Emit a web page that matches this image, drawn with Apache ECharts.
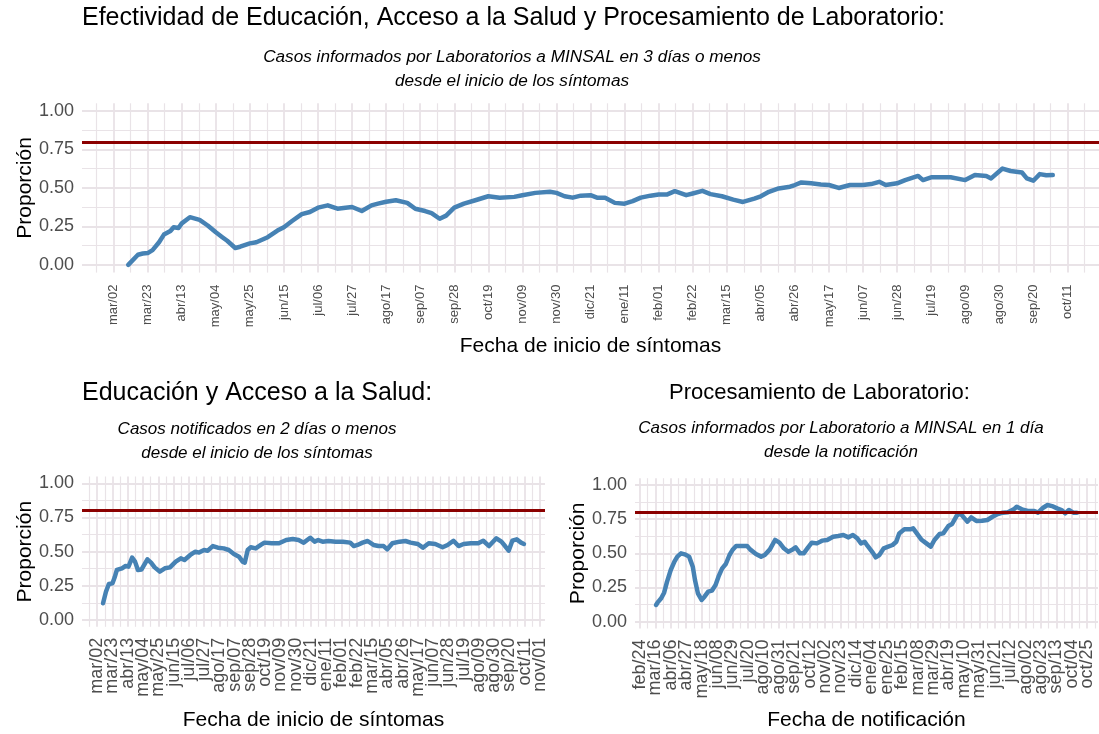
<!DOCTYPE html>
<html>
<head>
<meta charset="utf-8">
<script src="https://cdn.jsdelivr.net/npm/echarts@6/dist/echarts.min.js"></script>
<style>
html,body{margin:0;padding:0;background:#fff;}
#c{width:1099px;height:734px;}
</style>
</head>
<body>
<div id="c"></div>
<script>
// ---- data ----
const MESES = ['ene','feb','mar','abr','may','jun','jul','ago','sep','oct','nov','dic'];
const UMBRAL = 0.8;
const Y_TICKS = [0, 0.25, 0.5, 0.75, 1];

// Panel 1: Efectividad (fecha de inicio de síntomas)
const topFechas = ['2020-03-11','2020-03-17','2020-03-20','2020-03-23','2020-03-26','2020-03-30','2020-04-02','2020-04-06','2020-04-08','2020-04-11','2020-04-13','2020-04-18','2020-04-24','2020-04-29','2020-05-04','2020-05-08','2020-05-11','2020-05-16','2020-05-19','2020-05-25','2020-05-29','2020-06-05','2020-06-11','2020-06-15','2020-06-20','2020-06-26','2020-07-01','2020-07-06','2020-07-12','2020-07-18','2020-07-23','2020-07-27','2020-08-02','2020-08-08','2020-08-12','2020-08-17','2020-08-23','2020-08-30','2020-09-04','2020-09-10','2020-09-14','2020-09-19','2020-09-23','2020-09-28','2020-10-04','2020-10-11','2020-10-19','2020-10-26','2020-11-04','2020-11-09','2020-11-17','2020-11-26','2020-11-30','2020-12-05','2020-12-10','2020-12-15','2020-12-21','2020-12-25','2020-12-30','2021-01-05','2021-01-11','2021-01-16','2021-01-21','2021-01-27','2021-02-01','2021-02-06','2021-02-11','2021-02-18','2021-02-22','2021-02-28','2021-03-05','2021-03-12','2021-03-19','2021-03-25','2021-04-01','2021-04-05','2021-04-10','2021-04-16','2021-04-23','2021-04-26','2021-04-30','2021-05-06','2021-05-12','2021-05-17','2021-05-23','2021-05-30','2021-06-07','2021-06-12','2021-06-17','2021-06-21','2021-06-28','2021-07-03','2021-07-11','2021-07-14','2021-07-19','2021-07-24','2021-07-31','2021-08-09','2021-08-15','2021-08-22','2021-08-25','2021-09-01','2021-09-06','2021-09-13','2021-09-16','2021-09-20','2021-09-24','2021-09-28','2021-10-02'];
const topValores = [0.00,0.066,0.074,0.077,0.096,0.147,0.197,0.22,0.245,0.24,0.27,0.31,0.293,0.256,0.212,0.18,0.157,0.11,0.118,0.14,0.147,0.18,0.223,0.245,0.285,0.33,0.344,0.372,0.387,0.365,0.372,0.376,0.35,0.387,0.398,0.41,0.42,0.403,0.365,0.35,0.337,0.30,0.32,0.372,0.398,0.42,0.446,0.437,0.442,0.453,0.468,0.475,0.468,0.446,0.437,0.45,0.453,0.437,0.437,0.403,0.398,0.414,0.437,0.45,0.457,0.457,0.479,0.453,0.464,0.481,0.46,0.446,0.424,0.409,0.431,0.446,0.475,0.497,0.508,0.519,0.536,0.53,0.523,0.519,0.50,0.519,0.519,0.525,0.54,0.519,0.53,0.551,0.578,0.551,0.569,0.569,0.569,0.551,0.584,0.578,0.562,0.626,0.61,0.60,0.562,0.547,0.59,0.582,0.584];

// Panel 2: Educación y Acceso a la Salud (fecha de inicio de síntomas)
const eduFechas = ['2020-03-10','2020-03-14','2020-03-18','2020-03-23','2020-03-26','2020-03-29','2020-04-05','2020-04-10','2020-04-14','2020-04-19','2020-04-23','2020-04-27','2020-05-02','2020-05-10','2020-05-15','2020-05-20','2020-05-27','2020-06-03','2020-06-10','2020-06-18','2020-06-25','2020-06-30','2020-07-08','2020-07-15','2020-07-20','2020-07-27','2020-08-01','2020-08-08','2020-08-15','2020-08-23','2020-08-30','2020-09-06','2020-09-13','2020-09-18','2020-09-21','2020-09-25','2020-09-29','2020-10-06','2020-10-13','2020-10-18','2020-10-28','2020-11-07','2020-11-17','2020-11-26','2020-12-04','2020-12-11','2020-12-20','2020-12-26','2020-12-31','2021-01-06','2021-01-14','2021-01-24','2021-02-03','2021-02-13','2021-02-18','2021-02-23','2021-03-02','2021-03-09','2021-03-17','2021-03-24','2021-03-31','2021-04-05','2021-04-12','2021-04-22','2021-04-30','2021-05-07','2021-05-17','2021-05-24','2021-06-01','2021-06-10','2021-06-20','2021-06-27','2021-07-05','2021-07-12','2021-07-19','2021-07-29','2021-08-08','2021-08-15','2021-08-23','2021-09-02','2021-09-09','2021-09-14','2021-09-19','2021-09-24','2021-09-30','2021-10-06','2021-10-10'];
const eduValores = [0.122,0.207,0.263,0.268,0.312,0.366,0.378,0.395,0.39,0.456,0.427,0.366,0.37,0.444,0.42,0.385,0.354,0.378,0.385,0.427,0.451,0.439,0.476,0.50,0.493,0.512,0.507,0.541,0.529,0.524,0.512,0.483,0.463,0.427,0.42,0.512,0.532,0.524,0.549,0.566,0.561,0.561,0.585,0.593,0.585,0.566,0.602,0.573,0.585,0.573,0.578,0.573,0.573,0.566,0.541,0.549,0.566,0.578,0.549,0.541,0.541,0.517,0.561,0.573,0.578,0.566,0.556,0.529,0.561,0.556,0.532,0.549,0.58,0.541,0.556,0.561,0.561,0.58,0.541,0.598,0.573,0.541,0.507,0.58,0.59,0.566,0.556];

// Panel 3: Procesamiento de Laboratorio (fecha de notificación)
const labFechas = ['2020-03-17','2020-03-19','2020-03-24','2020-03-28','2020-04-01','2020-04-06','2020-04-11','2020-04-15','2020-04-20','2020-04-25','2020-05-01','2020-05-06','2020-05-09','2020-05-13','2020-05-18','2020-05-22','2020-05-27','2020-06-01','2020-06-06','2020-06-10','2020-06-15','2020-06-20','2020-06-25','2020-06-29','2020-07-04','2020-07-11','2020-07-19','2020-07-23','2020-07-31','2020-08-07','2020-08-12','2020-08-19','2020-08-26','2020-09-01','2020-09-07','2020-09-13','2020-09-19','2020-09-23','2020-09-29','2020-10-04','2020-10-10','2020-10-15','2020-10-22','2020-10-29','2020-11-05','2020-11-13','2020-11-20','2020-11-27','2020-12-04','2020-12-10','2020-12-16','2020-12-21','2020-12-26','2020-12-30','2021-01-06','2021-01-10','2021-01-15','2021-01-21','2021-01-27','2021-02-02','2021-02-07','2021-02-11','2021-02-18','2021-02-26','2021-03-02','2021-03-07','2021-03-13','2021-03-20','2021-03-26','2021-03-31','2021-04-07','2021-04-12','2021-04-19','2021-04-24','2021-04-30','2021-05-05','2021-05-11','2021-05-15','2021-05-20','2021-05-27','2021-06-04','2021-06-11','2021-06-18','2021-06-24','2021-07-02','2021-07-09','2021-07-17','2021-07-21','2021-07-28','2021-08-05','2021-08-14','2021-08-19','2021-08-26','2021-09-01','2021-09-07','2021-09-14','2021-09-20','2021-09-25','2021-09-30','2021-10-06','2021-10-11'];
const labValores = [0.122,0.139,0.171,0.212,0.293,0.378,0.439,0.476,0.50,0.493,0.476,0.402,0.305,0.207,0.159,0.183,0.22,0.227,0.268,0.329,0.39,0.422,0.488,0.524,0.554,0.554,0.554,0.529,0.495,0.476,0.488,0.529,0.598,0.578,0.537,0.512,0.529,0.544,0.50,0.50,0.544,0.578,0.573,0.593,0.598,0.622,0.627,0.634,0.617,0.634,0.61,0.573,0.585,0.554,0.505,0.471,0.488,0.537,0.549,0.561,0.585,0.646,0.676,0.676,0.683,0.646,0.602,0.573,0.549,0.598,0.641,0.646,0.70,0.715,0.773,0.793,0.756,0.732,0.763,0.737,0.739,0.744,0.768,0.785,0.798,0.80,0.822,0.841,0.822,0.81,0.81,0.798,0.834,0.854,0.846,0.829,0.817,0.793,0.817,0.798,0.798];

// ---- helpers ----
const ORIGEN_SINTOMAS = '2020-03-02';
const ORIGEN_NOTIF = '2020-02-24';
const STEP = 21;
const DAY = 86400000;
function dayNum(s, origin){ return (Date.parse(s+'T00:00:00Z') - Date.parse(origin+'T00:00:00Z'))/DAY; }
function fmtDay(v, origin){
  const k = v/STEP;
  if (Math.abs(k - Math.round(k)) > 1e-6) return '';
  const d = new Date(Date.parse(origin+'T00:00:00Z') + Math.round(v)*DAY);
  return MESES[d.getUTCMonth()] + '/' + String(d.getUTCDate()).padStart(2,'0');
}
function pairs(fechas, valores, origin){ return fechas.map((f,i)=>[dayNum(f, origin), valores[i]]); }
function expanded(fechas, origin){
  const a = dayNum(fechas[0], origin), b = dayNum(fechas[fechas.length-1], origin);
  const r = b - a;
  return [a - 0.05*r, b + 0.05*r];
}

const FONT = '"Liberation Sans", Arial, Helvetica, sans-serif';
const GRID_COL = '#e9e3e7';
const LABEL_COL = '#4d4d4d';

function xAxisFor(gi, origin, fechas, name, labelSize, labelMargin, nameGap){
  const ext = expanded(fechas, origin);
  return {
    type:'value', gridIndex: gi, min: ext[0], max: ext[1],
    minInterval: STEP, maxInterval: STEP,
    axisLine:{show:false}, axisTick:{show:false},
    axisLabel:{ rotate:90, margin: labelMargin, fontSize: labelSize, color: LABEL_COL, fontFamily: FONT,
      showMinLabel:false, showMaxLabel:false, formatter: v => fmtDay(v, origin) },
    splitLine:{show:true, showMinLine:false, showMaxLine:false, lineStyle:{color:GRID_COL, width:1.8}},
    minorTick:{show:false, splitNumber:2},
    minorSplitLine:{show:true, lineStyle:{color:GRID_COL, width:1.2}},
    name: name, nameLocation:'middle', nameGap: nameGap, nameMoveOverlap:false,
    nameTextStyle:{fontSize:21, color:'#000', fontFamily: FONT}
  };
}
function yAxisFor(gi){
  return {
    type:'value', gridIndex: gi, min: Y_TICKS[0] - 0.05, max: Y_TICKS[Y_TICKS.length-1] + 0.05,
    minInterval: 0.25, maxInterval: 0.25,
    axisLine:{show:false}, axisTick:{show:false},
    axisLabel:{ margin: 8, fontSize: 18, color: LABEL_COL, fontFamily: FONT, showMinLabel:false, showMaxLabel:false,
      formatter: v => (Y_TICKS.some(t => Math.abs(t - v) < 1e-9) ? v.toFixed(2) : '') },
    splitLine:{show:true, showMinLine:false, showMaxLine:false, lineStyle:{color:GRID_COL, width:1.8}},
    minorTick:{show:false, splitNumber:2},
    minorSplitLine:{show:true, lineStyle:{color:GRID_COL, width:1.2}},
    name:'Proporción', nameLocation:'middle', nameGap: 46, nameMoveOverlap:false,
    nameTextStyle:{fontSize:21, color:'#000', fontFamily: FONT}
  };
}
function seriesFor(i, data){
  return {
    type:'line', xAxisIndex:i, yAxisIndex:i, data:data, showSymbol:false, silent:true,
    lineStyle:{color:'#4682B4', width:4.5, cap:'round', join:'round'},
    markLine:{ silent:true, symbol:'none', label:{show:false},
      lineStyle:{color:'#8B0000', width:3, type:'solid'}, data:[{yAxis: UMBRAL}] },
    z: 3
  };
}
function txt(x, y, text, size, opts){
  return { type:'text', x:x, y:y, silent:true,
    style: { text:text, fill:'#000', font: (opts && opts.italic ? 'italic ' : '') + size + 'px ' + FONT,
      textAlign: (opts && opts.align) || 'left', textVerticalAlign:'middle' } };
}

const chart = echarts.init(document.getElementById('c'), null, {renderer:'canvas'});
chart.setOption({
  animation:false,
  backgroundColor:'#fff',
  grid:[
    {left:82, top:103.3, width:1017, height:169.3},
    {left:82, top:476.5, width:463, height:150.3},
    {left:635, top:478.2, width:463, height:150.3}
  ],
  xAxis:[
    xAxisFor(0, ORIGEN_SINTOMAS, topFechas, 'Fecha de inicio de síntomas', 13, 12, 63),
    xAxisFor(1, ORIGEN_SINTOMAS, eduFechas, 'Fecha de inicio de síntomas', 18, 11, 83),
    xAxisFor(2, ORIGEN_NOTIF, labFechas, 'Fecha de notificación', 18, 11, 81)
  ],
  yAxis:[yAxisFor(0), yAxisFor(1), yAxisFor(2)],
  series:[
    seriesFor(0, pairs(topFechas, topValores, ORIGEN_SINTOMAS)),
    seriesFor(1, pairs(eduFechas, eduValores, ORIGEN_SINTOMAS)),
    seriesFor(2, pairs(labFechas, labValores, ORIGEN_NOTIF))
  ],
  graphic:[
    txt(82, 18, 'Efectividad de Educación, Acceso a la Salud y Procesamiento de Laboratorio:', 25),
    txt(512, 57, 'Casos informados por Laboratorios a MINSAL en 3 días o menos', 17.2, {italic:true, align:'center'}),
    txt(512, 81, 'desde el inicio de los síntomas', 17.2, {italic:true, align:'center'}),
    txt(82, 393, 'Educación y Acceso a la Salud:', 25),
    txt(257, 429, 'Casos notificados en 2 días o menos', 17, {italic:true, align:'center'}),
    txt(257, 453, 'desde el inicio de los síntomas', 17, {italic:true, align:'center'}),
    txt(669, 393, 'Procesamiento de Laboratorio:', 22),
    txt(841, 428, 'Casos informados por Laboratorio a MINSAL en 1 día', 17, {italic:true, align:'center'}),
    txt(841, 452, 'desde la notificación', 17, {italic:true, align:'center'})
  ]
});
</script>
</body>
</html>
